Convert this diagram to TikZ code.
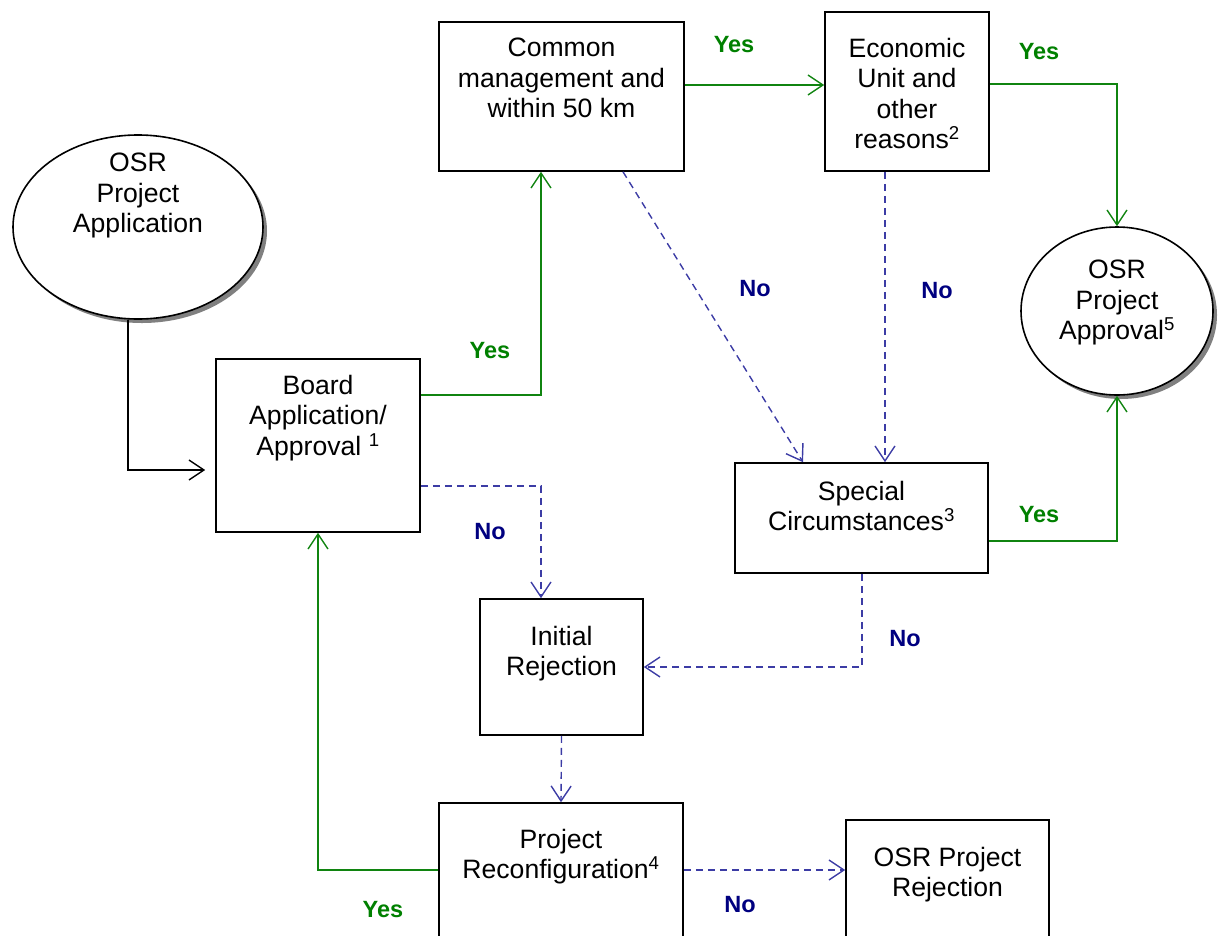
\documentclass[tikz,border=0pt]{standalone}
\usepackage{fontspec}
\setmainfont{Liberation Sans}
\usetikzlibrary{arrows.meta,shapes.geometric,shadows}
\definecolor{ygreen}{RGB}{16,132,16}
\definecolor{ytext}{RGB}{0,128,0}
\definecolor{nblue}{RGB}{60,60,165}
\definecolor{nnavy}{RGB}{0,0,128}
\begin{document}
\begin{tikzpicture}[x=1pt,y=-1pt,
  box/.style={draw=black,line width=1.6pt,inner sep=0pt},
  txt/.style={anchor=north,align=center,inner sep=0pt,font=\fontsize{26.6}{30.5}\selectfont},
  oval/.style={draw=black,ellipse,line width=1.6pt,fill=white,inner sep=0pt,
    drop shadow={shadow xshift=4pt,shadow yshift=-4pt,fill=black!50,opacity=1}},
  tip/.style={-{Straight Barb[length=15pt,width=20pt]}},
  yesline/.style={draw=ygreen,line width=1.4pt,tip},
  noline/.style={draw=nblue,line width=1.4pt,dash pattern=on 7pt off 5pt,tip},
  plain/.style={draw=black,line width=1.4pt,tip},
  yeslab/.style={text=ytext,inner sep=0pt,font=\bfseries\fontsize{23.5}{27}\selectfont},
  nolab/.style={text=nnavy,inner sep=0pt,font=\bfseries\fontsize{23.5}{27}\selectfont}]
\useasboundingbox (0,0) rectangle (1225,935);
\clip (0,0) rectangle (1225,935);

% shapes
\node[oval,minimum width=250pt,minimum height=184pt] (app) at (138,227) {};
\node[txt] (apptxt) at (138,153) {OSR\\Project\\Application};

\node[oval,minimum width=192pt,minimum height=168pt] (appr) at (1117,311) {};
\node[txt] (apprtxt) at (1117,260) {OSR\\Project\\Approval\textsuperscript{5}};

\node[box,minimum width=204pt,minimum height=173pt] (board) at (318,445.5) {};
\node[txt] (boardtxt) at (318,375) {Board\\Application/\\Approval \textsuperscript{1}};

\node[box,minimum width=245pt,minimum height=149pt] (common) at (561.5,96.5) {};
\node[txt] (commontxt) at (561.5,38) {Common\\management and\\within 50 km};

\node[box,minimum width=164pt,minimum height=159pt] (econ) at (907,91.5) {};
\node[txt] (econtxt) at (907,38) {Economic\\Unit and\\other\\reasons\textsuperscript{2}};

\node[box,minimum width=253pt,minimum height=110pt] (special) at (861.5,518) {};
\node[txt] (specialtxt) at (861.5,481) {Special\\Circumstances\textsuperscript{3}};

\node[box,minimum width=163pt,minimum height=136pt] (initial) at (561.5,667) {};
\node[txt] (initialtxt) at (561.5,626) {Initial\\Rejection};

\node[box,minimum width=244pt,minimum height=142pt] (reconf) at (561,874) {};
\node[txt] (reconftxt) at (561,829) {Project\\Reconfiguration\textsuperscript{4}};

\node[box,minimum width=203pt,minimum height=130pt] (reject) at (947.5,885) {};
\node[txt] (rejecttxt) at (947.5,847) {OSR Project\\Rejection};

% connectors
\draw[plain,shorten >=10pt] ([xshift=-10pt]app.south) |- ([yshift=-24.5pt]board.west);
\draw[yesline] ([yshift=50.5pt]board.east) -| ([xshift=-20.5pt]common.south);
\draw[noline] ([yshift=-40.5pt]board.east) -| ([xshift=-20.5pt]initial.north);
\draw[yesline] ([yshift=11.5pt]common.east) -- ([yshift=11.5pt]common.east -| econ.west);
\draw[noline] ([xshift=61.5pt]common.south) -- ([xshift=-58.5pt]special.north);
\draw[noline] ([xshift=-22pt]econ.south) -- ([xshift=-22pt]econ.south |- special.north);
\draw[yesline] ([yshift=7.5pt]econ.east) -| (appr.north);
\draw[yesline] ([yshift=-23pt]special.east) -| (appr.south);
\draw[noline] ([xshift=0.5pt]special.south) |- (initial.east);
\draw[noline] (initial.south) -- (reconf.north);
\draw[yesline] ([yshift=4pt]reconf.west) -| (board.south);
\draw[noline] ([yshift=4pt]reconf.east) -- ([yshift=4pt]reconf.east -| reject.west);

% labels
\node[yeslab] (y1) at (490,351) {Yes};
\node[nolab] (n1) at (490,532) {No};
\node[yeslab] (y2) at (734,45) {Yes};
\node[nolab] (n2) at (755,289) {No};
\node[nolab] (n3) at (937,291) {No};
\node[yeslab] (y3) at (1039,52) {Yes};
\node[yeslab] (y4) at (1039,515) {Yes};
\node[nolab] (n4) at (905,639) {No};
\node[yeslab] (y5) at (383,910) {Yes};
\node[nolab] (n5) at (740,905) {No};
\end{tikzpicture}
\end{document}
